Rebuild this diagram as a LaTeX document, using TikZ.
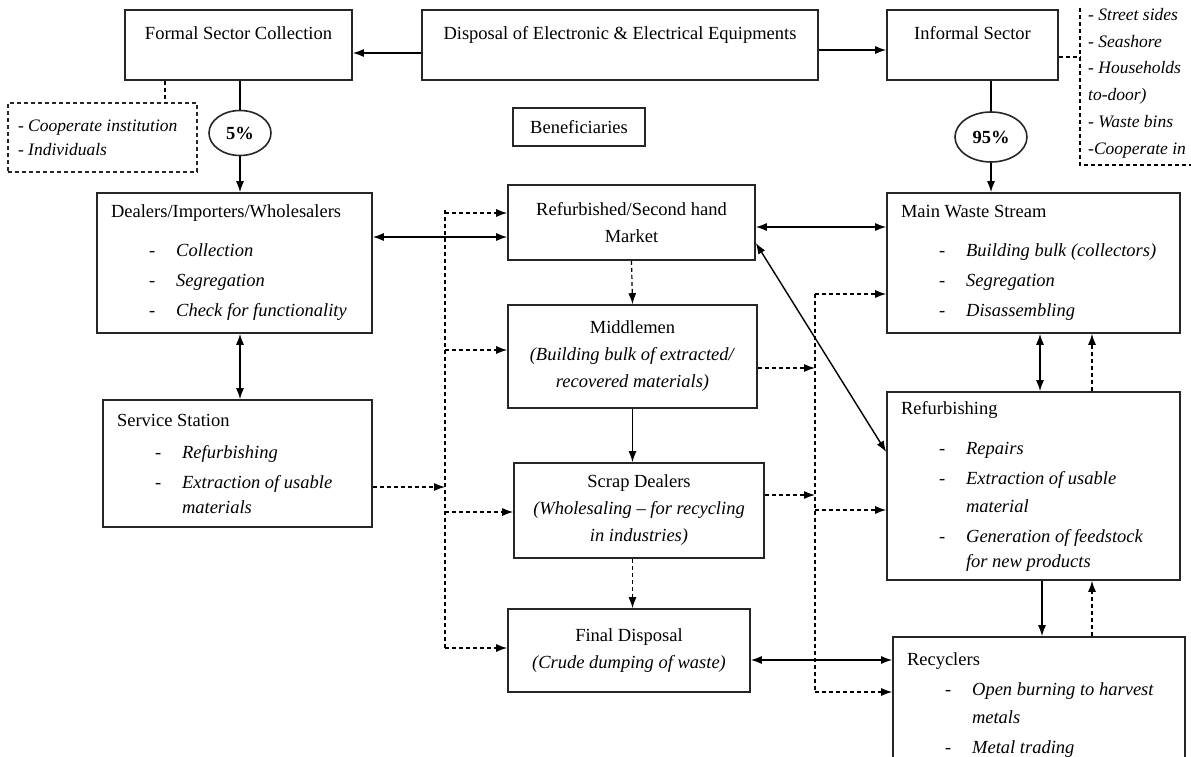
\documentclass[tikz,border=0pt]{standalone}
\usepackage{fontspec}
\setmainfont{Liberation Serif}
\usetikzlibrary{arrows.meta, shapes.geometric}

\newcommand{\itm}[1]{\hspace*{38pt}-\hspace*{21pt}\textit{#1}}
\newcommand{\cont}[1]{\hspace*{65pt}\textit{#1}}

\tikzset{
  box/.style={draw=black!85, line width=1.6pt, inner sep=0pt, align=center,
    font=\fontsize{18.5}{27}\selectfont},
  topbox/.style={box, text depth=24pt},
  listbox/.style={box, align=flush left, inner xsep=14pt,
    font=\fontsize{18.5}{30}\selectfont},
  share/.style={ellipse, draw=black!85, line width=1.6pt, inner sep=0pt,
    font=\fontsize{18.5}{20}\selectfont\bfseries},
  dashbox/.style={draw=black!85, line width=1.2pt, dash pattern=on 4pt off 3pt,
    inner sep=0pt, inner xsep=10pt, align=flush left, font=\fontsize{17.5}{24}\selectfont\itshape},
  flow/.style={line width=1.4pt},
  dashflow/.style={line width=1.2pt, dash pattern=on 4pt off 3pt},
}

\begin{document}
\begin{tikzpicture}[x=1pt, y=-1pt, >={Latex[length=11pt,width=8pt]}]
  \useasboundingbox (0,0) rectangle (1191,757);
  \clip (0,0) rectangle (1191,757);

  % top row
  \node[topbox, minimum width=227, minimum height=70] (formal) at (238.5,45) {Formal Sector Collection};
  \node[topbox, minimum width=396, minimum height=70] (disposal) at (620,45) {Disposal of Electronic \& Electrical Equipments};
  \node[topbox, minimum width=171, minimum height=70] (informal) at (972.5,45) {Informal Sector};

  \node[share, minimum width=62, minimum height=45] (five) at (240,133) {5\%};
  \node[share, minimum width=72, minimum height=50] (ninetyfive) at (991,137) {95\%};
  \node[dashbox, minimum width=189, minimum height=69, text width=169] (cooplist) at (102.5,137.5)
    {- Cooperate institution\\- Individuals};
  \node[box, minimum width=132, minimum height=38] (benef) at (579,127) {Beneficiaries};

  \node[anchor=north west, inner sep=0pt, align=flush left,
    font=\fontsize{17.5}{26.8}\selectfont\itshape] (infolist) at (1088,8)
    {- Street sides\\- Seashore\\- Households\\to-door)\\- Waste bins\\-Cooperate in};
  \coordinate (infotop) at (1080,8);
  \coordinate (infocorner) at (1080,165);
  \coordinate (infoend) at (1200,165);
  \draw[dashflow] (infotop) -- (infocorner) -- (infoend);

  % left column
  \node[listbox, minimum width=275, minimum height=140, text width=247] (dealers) at (234.5,263)
    {Dealers/Importers/Wholesalers\\[9pt]
     \itm{Collection}\\
     \itm{Segregation}\\
     \itm{Check for functionality}};
  \node[listbox, minimum width=269, minimum height=127, text width=241] (service) at (237.5,463.5)
    {Service Station\\[2pt]
     \itm{Refurbishing}\\
     \itm{Extraction of usable}\\[-5pt]
     \cont{materials}};

  % middle column
  \node[box, minimum width=247, minimum height=75] (refmarket) at (631.5,222.5)
    {Refurbished/Second hand\\Market};
  \node[box, minimum width=249, minimum height=103] (middle) at (632.5,356.5)
    {Middlemen\\\textit{(Building bulk of extracted/}\\\textit{recovered materials)}};
  \node[box, minimum width=250, minimum height=95] (scrap) at (639,510.5)
    {Scrap Dealers\\\textit{(Wholesaling -- for recycling}\\\textit{in industries)}};
  \node[box, minimum width=242, minimum height=83] (final) at (629,650.5)
    {Final Disposal\\\textit{(Crude dumping of waste)}};

  % right column
  \node[listbox, minimum width=293, minimum height=140, text width=265] (mainws) at (1033.5,263)
    {Main Waste Stream\\[9pt]
     \itm{Building bulk (collectors)}\\
     \itm{Segregation}\\
     \itm{Disassembling}};
  \node[listbox, minimum width=293, minimum height=188, text width=265] (refurb) at (1033.5,486)
    {Refurbishing\\[10pt]
     \itm{Repairs}\\
     \itm{Extraction of usable}\\[-2pt]
     \cont{material}\\
     \itm{Generation of feedstock}\\[-5pt]
     \cont{for new products}};
  \node[listbox, minimum width=292, minimum height=136, text width=264] (recyc) at (1039,705)
    {Recyclers\\
     \itm{Open burning to harvest}\\[-2pt]
     \cont{metals}\\
     \itm{Metal trading}};

  % connectors, top
  \draw[flow, ->] ([yshift=-8pt]disposal.west) -- ([yshift=-8pt]formal.east);
  \draw[flow, ->] ([yshift=-5pt]disposal.east) -- ([yshift=-5pt]informal.west);
  \draw[flow] (formal.south -| five) -- (five.north);
  \draw[flow, ->] (five.south) -- (five.south |- dealers.north);
  \draw[dashflow] ([xshift=-73.5pt]formal.south) -- ([xshift=-73.5pt]formal.south |- cooplist.north);
  \draw[flow] (informal.south -| ninetyfive) -- (ninetyfive.north);
  \draw[flow, ->] (ninetyfive.south) -- (ninetyfive.south |- mainws.north);
  \draw[dashflow] ([yshift=-12pt]informal.east) -- ([yshift=-12pt]informal.east -| infocorner);

  % connectors, left
  \draw[flow, <->] (five |- dealers.south) -- (five |- service.north);
  \draw[flow, <->] ([yshift=26pt]dealers.east) -- ([yshift=26pt]dealers.east -| refmarket.west);
  \coordinate (lbustop) at (445,210);
  \coordinate (lbusbot) at (445,648);
  \draw[dashflow] (lbustop) -- (lbusbot);
  \draw[dashflow, ->] ([yshift=9.5pt]refmarket.west -| lbustop) -- ([yshift=9.5pt]refmarket.west);
  \draw[dashflow, ->] ([yshift=6.5pt]middle.west -| lbustop) -- ([yshift=6.5pt]middle.west);
  \draw[dashflow, ->] ([yshift=-1.5pt]scrap.west -| lbustop) -- ([yshift=-1.5pt]scrap.west);
  \draw[dashflow, ->] ([yshift=2.5pt]final.west -| lbustop) -- ([yshift=2.5pt]final.west);
  \draw[dashflow, ->] ([yshift=-23.5pt]service.east) -- ([yshift=-23.5pt]service.east -| lbustop);

  % connectors, middle
  \draw[dashflow, ->] (refmarket.south) -- (middle.north);
  \draw[flow, ->] (middle.south) -- (middle.south |- scrap.north);
  \draw[dashflow, ->] (scrap.south -| middle) -- (final.north -| middle);

  % connectors, right
  \coordinate (rbustop) at (815,294);
  \coordinate (rbusbot) at (815,692);
  \draw[dashflow] (rbustop) -- (rbusbot);
  \draw[dashflow, ->] ([yshift=-11.5pt]middle.east) -- ([yshift=-11.5pt]middle.east -| rbustop);
  \draw[dashflow, ->] ([yshift=15.5pt]scrap.east) -- ([yshift=15.5pt]scrap.east -| rbustop);
  \draw[dashflow, ->] ([yshift=-31pt]mainws.west -| rbustop) -- ([yshift=-31pt]mainws.west);
  \draw[dashflow, ->] ([yshift=-24pt]refurb.west -| rbustop) -- ([yshift=-24pt]refurb.west);
  \draw[dashflow, ->] ([yshift=13pt]recyc.west -| rbustop) -- ([yshift=13pt]recyc.west);
  \draw[flow, <->] ([yshift=-4.5pt]refmarket.east) -- ([yshift=-4.5pt]refmarket.east -| mainws.west);
  \draw[flow, <->] ([yshift=-20.5pt]refmarket.east) -- ([yshift=34pt]refurb.west);
  \draw[flow, <->] ([yshift=-9.5pt]final.east) -- ([yshift=-9.5pt]final.east -| recyc.west);
  \draw[flow, <->] ([xshift=6.5pt]mainws.south) -- ([xshift=6.5pt]mainws.south |- refurb.north);
  \draw[dashflow, ->] ([xshift=58.5pt]refurb.north) -- ([xshift=58.5pt]refurb.north |- mainws.south);
  \draw[flow, ->] ([xshift=8.5pt]refurb.south) -- ([xshift=8.5pt]refurb.south |- recyc.north);
  \draw[dashflow, ->] ([xshift=58.5pt]refurb.south |- recyc.north) -- ([xshift=58.5pt]refurb.south);
\end{tikzpicture}
\end{document}
